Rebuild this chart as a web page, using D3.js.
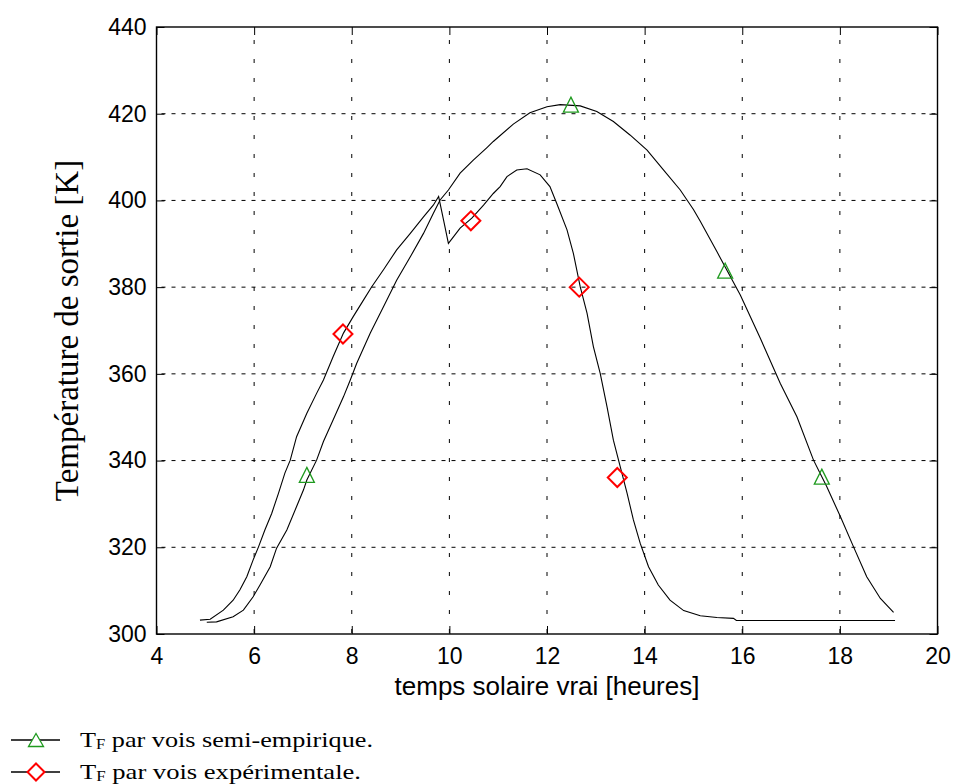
<!DOCTYPE html>
<html>
<head>
<meta charset="utf-8">
<script src="https://cdn.jsdelivr.net/npm/d3@7"></script>
<style>
  html, body { margin: 0; padding: 0; background: #fff; }
  svg { display: block; }
</style>
</head>
<body>
<svg id="chart" width="956" height="784"></svg>
<script>
// Outlet temperature over the solar day: experimental trace vs semi-empirical model
const xTicks = [4, 6, 8, 10, 12, 14, 16, 18, 20];
const yTicks = [300, 320, 340, 360, 380, 400, 420, 440];

// experimental curve (hours, K)
const expX = [4.89, 5.10, 5.37, 5.57, 5.71, 5.85, 5.98, 6.09, 6.22, 6.36, 6.50, 6.63, 6.74, 6.87,
  7.08, 7.28, 7.42, 7.62, 7.83, 8.03, 8.24, 8.41, 8.65, 8.92, 9.20, 9.47, 9.67, 9.78, 9.88, 9.98,
  10.22, 10.46, 10.70, 10.90, 11.04, 11.18, 11.38, 11.59, 11.86, 12.06, 12.20, 12.41, 12.54,
  12.68, 12.82, 12.95, 13.09, 13.23, 13.36, 13.50, 13.64, 13.77, 13.91, 14.08, 14.28, 14.52,
  14.80, 15.14, 15.48, 15.82, 15.88, 19.13];
const expY = [303.2, 303.4, 305.5, 307.8, 310.2, 313.2, 317.1, 320.1, 324.0, 327.8, 332.5, 337.1,
  340.1, 345.5, 350.9, 355.5, 358.6, 364.0, 369.4, 373.2, 377.0, 380.1, 384.0, 388.6, 392.4,
  396.2, 398.9, 400.9, 395.5, 390.1, 393.6, 395.9, 398.9, 401.6, 403.2, 405.5, 407.0, 407.3,
  405.9, 403.2, 399.3, 393.2, 387.8, 380.1, 374.0, 366.3, 360.1, 352.4, 344.7, 338.6, 332.5,
  326.3, 320.9, 315.5, 311.3, 307.8, 305.4, 304.2, 303.8, 303.6, 303.1, 303.1];

// semi-empirical curve (hours, K)
const semiX = [5.03, 5.23, 5.57, 5.78, 5.98, 6.12, 6.33, 6.46, 6.67, 6.87, 7.01, 7.08, 7.28, 7.42,
  7.62, 7.83, 7.97, 8.10, 8.38, 8.65, 8.92, 9.20, 9.47, 9.67, 9.81, 9.98, 10.22, 10.49, 10.77,
  10.90, 11.31, 11.65, 12.00, 12.27, 12.68, 13.02, 13.36, 13.70, 14.05, 14.39, 14.73, 15.00,
  15.14, 15.48, 15.96, 16.37, 16.78, 17.12, 17.46, 17.73, 18.01, 18.28, 18.55, 18.83, 19.10];
const semiY = [302.7, 302.8, 304.0, 305.5, 308.6, 311.3, 315.5, 319.8, 324.0, 329.4, 333.2, 335.5,
  340.1, 344.4, 349.4, 354.7, 358.6, 362.4, 369.4, 375.5, 381.6, 387.0, 392.4, 397.0, 400.1,
  402.4, 406.3, 409.3, 412.2, 413.6, 417.6, 420.2, 421.6, 422.1, 421.8, 420.5, 418.2, 415.1,
  411.6, 407.0, 402.4, 397.9, 395.2, 388.2, 378.2, 368.2, 357.8, 350.1, 340.1, 334.0, 327.1,
  320.1, 313.2, 308.2, 305.0];

// sampled points shown with markers
const semiMarkX = [7.08, 12.49, 15.65, 17.63];
const semiMarkY = [336.7, 422.1, 383.8, 336.3];
const expMarkX = [7.82, 10.44, 12.66, 13.44];
const expMarkY = [369.2, 395.3, 380.0, 336.1];

const legendLabels = ["par vois semi-empirique.", "par vois expérimentale."];
const xTitle = "temps solaire vrai [heures]";
const yTitle = "Température de sortie [K]";

const GREEN = "#1f9a1f", RED = "#ff0000";
const sans = "Arial, 'Liberation Sans', Helvetica, sans-serif";
const serif = "'Times New Roman', 'Liberation Serif', serif";

const svg = d3.select("#chart");
const L = 156.5, R = 937.5, T = 27, B = 634;
const x = d3.scaleLinear().domain([4, 20]).range([L, R]);
const y = d3.scaleLinear().domain([300, 440]).range([B, T]);

// dashed grid
const grid = svg.append("g");
grid.selectAll("line.gx").data(xTicks.slice(1, -1)).join("line")
  .attr("x1", d => x(d)).attr("x2", d => x(d)).attr("y1", T).attr("y2", B)
  .attr("stroke", "#000").attr("stroke-width", 1).attr("stroke-dasharray", "4,15")
  .attr("stroke-dashoffset", -13);
grid.selectAll("line.gy").data(yTicks.slice(1, -1)).join("line")
  .attr("x1", L).attr("x2", R).attr("y1", d => y(d)).attr("y2", d => y(d))
  .attr("stroke", "#000").attr("stroke-width", 1).attr("stroke-dasharray", "4,6")
  .attr("stroke-dashoffset", -5);

// axes
function styleAxis(g) {
  g.select(".domain").remove();
  g.selectAll(".tick line").attr("stroke", "#000").attr("stroke-width", 1);
  g.selectAll(".tick text").attr("fill", "#000").attr("font-family", sans).attr("font-size", 23);
}
svg.append("g").attr("transform", `translate(0,${B})`)
  .call(d3.axisBottom(x).tickValues(xTicks).tickFormat(d3.format("d")).tickSizeInner(-8).tickSizeOuter(0).tickPadding(14))
  .call(styleAxis);
svg.append("g").attr("transform", `translate(${L},0)`)
  .call(d3.axisLeft(y).tickValues(yTicks).tickFormat(d3.format("d")).tickSizeInner(-8).tickSizeOuter(0).tickPadding(10))
  .call(styleAxis);
svg.append("g").attr("transform", `translate(0,${T})`)
  .call(d3.axisTop(x).tickValues(xTicks).tickFormat("").tickSizeInner(-8).tickSizeOuter(0))
  .call(styleAxis);
svg.append("g").attr("transform", `translate(${R},0)`)
  .call(d3.axisRight(y).tickValues(yTicks).tickFormat("").tickSizeInner(-8).tickSizeOuter(0))
  .call(styleAxis);

// box
svg.append("rect").attr("x", L).attr("y", T).attr("width", R - L).attr("height", B - T)
  .attr("fill", "none").attr("stroke", "#000").attr("stroke-width", 1.4);

// curves
const line = d3.line().x(d => x(d[0])).y(d => y(d[1]));
svg.append("path").datum(d3.zip(expX, expY)).attr("d", line)
  .attr("fill", "none").attr("stroke", "#000").attr("stroke-width", 1.1);
svg.append("path").datum(d3.zip(semiX, semiY)).attr("d", line)
  .attr("fill", "none").attr("stroke", "#000").attr("stroke-width", 1.1);

// marker shapes
const triType = (w, h) => ({ draw(ctx) {
  ctx.moveTo(0, -h / 2); ctx.lineTo(w / 2, h / 2); ctx.lineTo(-w / 2, h / 2); ctx.closePath();
}});
const diaType = r => ({ draw(ctx) {
  ctx.moveTo(0, -r); ctx.lineTo(r, 0); ctx.lineTo(0, r); ctx.lineTo(-r, 0); ctx.closePath();
}});

svg.append("g").selectAll("path").data(d3.zip(semiMarkX, semiMarkY)).join("path")
  .attr("transform", d => `translate(${x(d[0])},${y(d[1])})`)
  .attr("d", d3.symbol().type(triType(15, 15)))
  .attr("fill", "none").attr("stroke", GREEN).attr("stroke-width", 1.3);
svg.append("g").selectAll("path").data(d3.zip(expMarkX, expMarkY)).join("path")
  .attr("transform", d => `translate(${x(d[0])},${y(d[1])})`)
  .attr("d", d3.symbol().type(diaType(9.5)))
  .attr("fill", "none").attr("stroke", RED).attr("stroke-width", 2);

// axis titles
svg.append("text").attr("x", (L + R) / 2).attr("y", 695).attr("text-anchor", "middle")
  .attr("font-family", sans).attr("font-size", 26).attr("fill", "#000").text(xTitle);
svg.append("text").attr("transform", "translate(78,330.5) rotate(-90)").attr("text-anchor", "middle")
  .attr("font-family", serif).attr("font-size", 33).attr("fill", "#000").text(yTitle);

// legend (wide serif text)
const legend = svg.append("g");
const rows = [
  { y: 740, label: legendLabels[0], sym: triType(15, 13), color: GREEN, sw: 1.3, w: 293 },
  { y: 772, label: legendLabels[1], sym: diaType(8.5), color: RED, sw: 2, w: 281 }
];
rows.forEach(r => {
  legend.append("line").attr("x1", 11).attr("x2", 60).attr("y1", r.y).attr("y2", r.y)
    .attr("stroke", "#000").attr("stroke-width", 1.6);
  legend.append("path").attr("transform", `translate(36,${r.y})`)
    .attr("d", d3.symbol().type(r.sym)).attr("fill", "#fff").attr("stroke", r.color).attr("stroke-width", r.sw);
  const t = legend.append("text").attr("x", 80).attr("y", r.y + 7)
    .attr("font-family", serif).attr("font-size", 22).attr("fill", "#000")
    .attr("textLength", r.w).attr("lengthAdjust", "spacingAndGlyphs");
  t.append("tspan").text("T");
  t.append("tspan").attr("font-size", 14).attr("dy", 2).text("F");
  t.append("tspan").attr("dy", -2).text(" " + r.label);
});
</script>
</body>
</html>
